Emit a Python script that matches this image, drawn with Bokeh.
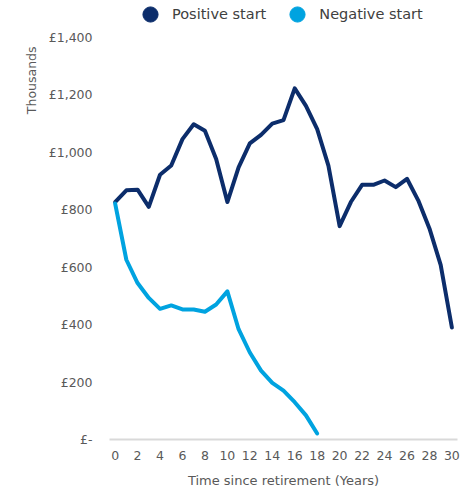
from bokeh.plotting import figure
from bokeh.models import FixedTicker, Legend, LegendItem, Range1d, Title
from bokeh.layouts import column
from bokeh.embed import file_html
from bokeh.resources import INLINE

years = list(range(0, 31))
positive = [827, 868, 870, 810, 922, 954, 1046, 1098, 1075, 977, 827, 948, 1031, 1061, 1100,
            1112, 1223, 1162, 1081, 954, 743, 827, 887, 887, 902, 879, 908, 833, 735, 608, 390]
neg_years = list(range(0, 19))
negative = [822, 626, 545, 493, 455, 467, 453, 453, 445, 470, 516, 384, 303, 240, 197, 170, 130, 84, 21]

series_names = ["Positive start", "Negative start"]
x_ticks = list(range(0, 31, 2))
y_ticks = [0, 200, 400, 600, 800, 1000, 1200, 1400]
y_labels = {0: "£-", 200: "£200", 400: "£400", 600: "£600", 800: "£800",
            1000: "£1,000", 1200: "£1,200", 1400: "£1,400"}

NAVY = "#0c2d6b"
LIGHT = "#00a3e0"
GREY = "#595959"
FONT = "DejaVu Sans"

# ---- legend strip ----
lf = figure(width=467, height=28, output_backend="svg", toolbar_location=None,
            x_axis_type=None, y_axis_type=None, x_range=Range1d(0, 1), y_range=Range1d(0, 1),
            min_border=0)
lf.outline_line_color = None
lf.grid.visible = False
d1 = lf.scatter([float("nan")], [float("nan")], size=15, fill_color=NAVY, line_color=NAVY)
d2 = lf.scatter([float("nan")], [float("nan")], size=15, fill_color=LIGHT, line_color=LIGHT)
legend = Legend(items=[LegendItem(label=series_names[0], renderers=[d1]),
                       LegendItem(label=series_names[1], renderers=[d2])],
                orientation="horizontal", location=(22, -5),
                label_text_font=FONT, label_text_font_size="14.5px", label_text_color="#404040",
                border_line_color=None, background_fill_alpha=0,
                glyph_width=38, glyph_height=38, label_height=38, padding=0, margin=0,
                spacing=12, label_standoff=3)
lf.add_layout(legend)

# ---- main chart ----
p = figure(width=467, height=462, output_backend="svg", toolbar_location=None,
           x_range=Range1d(-0.5, 30.5), y_range=Range1d(0, 1400),
           min_border_left=109, min_border_right=10, min_border_top=9, min_border_bottom=49)
p.outline_line_color = None
p.grid.visible = False

p.line(years, positive, line_color=NAVY, line_width=4, line_join="round", line_cap="round")
p.line(neg_years, negative, line_color=LIGHT, line_width=4, line_join="round", line_cap="round")

xa = p.xaxis[0]
xa.ticker = FixedTicker(ticks=x_ticks)
xa.axis_line_color = "#d9d9d9"
xa.axis_line_width = 2
xa.major_tick_line_color = None
xa.minor_tick_line_color = None
xa.major_tick_out = 0
xa.minor_tick_out = 0
xa.major_label_text_color = GREY
xa.major_label_text_font = FONT
xa.major_label_text_font_size = "12.5px"
xa.major_label_standoff = 11
xa.axis_label = "Time since retirement (Years)"
xa.axis_label_text_font = FONT
xa.axis_label_text_font_size = "13px"
xa.axis_label_text_font_style = "normal"
xa.axis_label_text_color = GREY
xa.axis_label_standoff = 10

ya = p.yaxis[0]
ya.ticker = FixedTicker(ticks=y_ticks)
ya.major_label_overrides = y_labels
ya.axis_line_color = None
ya.major_tick_line_color = None
ya.minor_tick_line_color = None
ya.major_tick_out = 0
ya.minor_tick_out = 0
ya.major_label_text_color = GREY
ya.major_label_text_font = FONT
ya.major_label_text_font_size = "12.5px"
ya.major_label_standoff = 17

unit_title = Title(text="Thousands", align="right", offset=9, standoff=13,
                   text_font=FONT, text_font_size="12.5px", text_font_style="normal",
                   text_color=GREY)
p.add_layout(unit_title, "left")

open("out.html", "w").write(file_html(column(lf, p), INLINE))
